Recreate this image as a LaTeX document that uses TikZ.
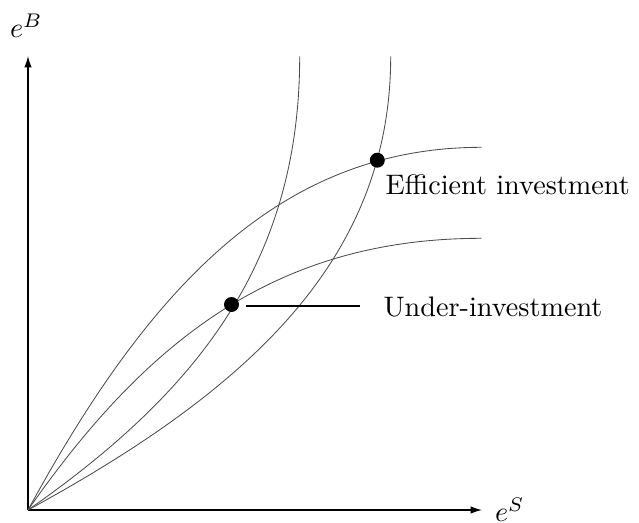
\documentclass[tikz,border=0pt]{standalone}
\usetikzlibrary{arrows.meta}
\begin{document}
\begin{tikzpicture}[x=0.3546pt,y=-0.3546pt,
  axis/.style={line width=0.45pt,-{Latex[length=4pt,width=2.6pt]}},
  curve/.style={line width=0.3pt,black!70},
  dot/.style={circle,fill=black,inner sep=0pt,minimum size=5.3pt},
  lbl/.style={inner sep=0pt,anchor=base west}]
\useasboundingbox (0,0) rectangle (639,523);
\coordinate (O) at (28,510);
\coordinate (ytip) at (28,56);
\coordinate (xtip) at (482,510);
\draw[axis] (O) -- (ytip);
\draw[axis] (O) -- (xtip);
\node[lbl] (lb) at (9.5,38) {$e^B$};
\node[lbl] (ls) at (494.5,521.5) {$e^S$};
% concave curves
\coordinate (Cend) at (481.7,147.3);
\coordinate (Dend) at (481.7,238.3);
\coordinate (Aend) at (299.7,56.3);
\coordinate (Bend) at (390.7,56.3);
\draw[curve] (O) .. controls (148,290) and (278,147.3) .. (Cend);
\draw[curve] (O) .. controls (148,338) and (278,238.3) .. (Dend);
% steep curves (mirror images)
\draw[curve] (O) .. controls (200,390) and (299.7,260) .. (Aend);
\draw[curve] (O) .. controls (248,390) and (390.7,260) .. (Bend);
% points
\node[dot] (ud) at (231.5,304.5) {};
\node[dot] (ed) at (377.3,160.2) {};
\node[lbl] (te) at (385,195) {Efficient investment};
\node[lbl] (tu) at (383,316.7) {Under-investment};
\coordinate (l1) at (246,306);
\coordinate (l2) at (360,306);
\draw[line width=0.4pt] (l1) -- (l2);
\end{tikzpicture}
\end{document}
